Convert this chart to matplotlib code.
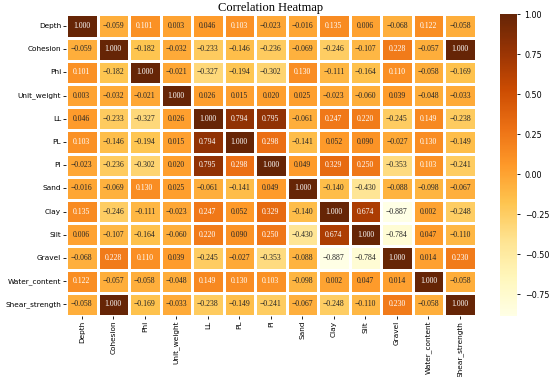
import numpy as np
import matplotlib
matplotlib.use("Agg")
import matplotlib.pyplot as plt
import seaborn as sns

labels = ["Depth", "Cohesion", "Phi", "Unit_weight", "LL", "PL", "PI", "Sand",
          "Clay", "Silt", "Gravel", "Water_content", "Shear_strength"]

# correlation matrix
depth = [1.000, -0.059, 0.101, 0.003, 0.046, 0.103, -0.023, -0.016, 0.135, 0.006, -0.068, 0.122, -0.058]
cohesion = [-0.059, 1.000, -0.182, -0.032, -0.233, -0.146, -0.236, -0.069, -0.246, -0.107, 0.228, -0.057, 1.000]
phi = [0.101, -0.182, 1.000, -0.021, -0.327, -0.194, -0.302, 0.130, -0.111, -0.164, 0.110, -0.058, -0.169]
unit_weight = [0.003, -0.032, -0.021, 1.000, 0.026, 0.015, 0.020, 0.025, -0.023, -0.060, 0.039, -0.048, -0.033]
ll = [0.046, -0.233, -0.327, 0.026, 1.000, 0.794, 0.795, -0.061, 0.247, 0.220, -0.245, 0.149, -0.238]
pl = [0.103, -0.146, -0.194, 0.015, 0.794, 1.000, 0.298, -0.141, 0.052, 0.090, -0.027, 0.130, -0.149]
pi = [-0.023, -0.236, -0.302, 0.020, 0.795, 0.298, 1.000, 0.049, 0.329, 0.250, -0.353, 0.103, -0.241]
sand = [-0.016, -0.069, 0.130, 0.025, -0.061, -0.141, 0.049, 1.000, -0.140, -0.430, -0.088, -0.098, -0.067]
clay = [0.135, -0.246, -0.111, -0.023, 0.247, 0.052, 0.329, -0.140, 1.000, 0.674, -0.887, 0.002, -0.248]
silt = [0.006, -0.107, -0.164, -0.060, 0.220, 0.090, 0.250, -0.430, 0.674, 1.000, -0.784, 0.047, -0.110]
gravel = [-0.068, 0.228, 0.110, 0.039, -0.245, -0.027, -0.353, -0.088, -0.887, -0.784, 1.000, 0.014, 0.230]
water_content = [0.122, -0.057, -0.058, -0.048, 0.149, 0.130, 0.103, -0.098, 0.002, 0.047, 0.014, 1.000, -0.058]
shear_strength = [-0.058, 1.000, -0.169, -0.033, -0.238, -0.149, -0.241, -0.067, -0.248, -0.110, 0.230, -0.058, 1.000]

corr = np.array([depth, cohesion, phi, unit_weight, ll, pl, pi, sand,
                 clay, silt, gravel, water_content, shear_strength])

# text labels with a real minus sign, like the original
annot = np.array([[f"{v:.3f}".replace("-", "\u2212") for v in row] for row in corr])

fig = plt.figure(figsize=(5.5, 3.77), dpi=100)
ax = fig.add_axes([0.12, 0.162, 0.745, 0.800])
cax = fig.add_axes([0.909, 0.162, 0.031, 0.800])

sns.heatmap(corr, annot=annot, fmt="", cmap="YlOrBr", linewidths=1, linecolor="white",
            xticklabels=labels, yticklabels=labels, ax=ax, cbar_ax=cax,
            annot_kws={"fontsize": 5.6, "family": "Liberation Serif"})

ax.set_title("Correlation Heatmap", family="Liberation Serif", fontsize=9, pad=2)
ax.tick_params(axis="both", labelsize=5.3, length=2, width=0.6, pad=1.5)
plt.setp(ax.get_xticklabels(), rotation=90)
plt.setp(ax.get_yticklabels(), rotation=0)
cax.tick_params(labelsize=5.8, length=2, width=0.6)
cax.set_yticks([-0.75, -0.5, -0.25, 0.0, 0.25, 0.5, 0.75, 1.0])
for s in cax.spines.values():
    s.set_visible(False)

fig.savefig("out.png", dpi=100)
